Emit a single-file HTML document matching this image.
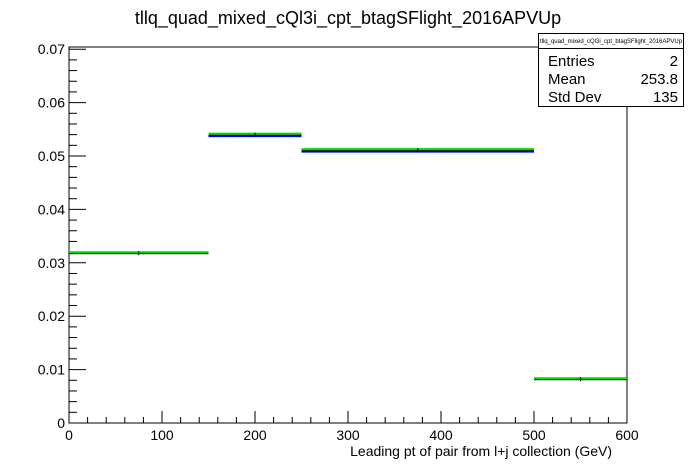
<!DOCTYPE html>
<html><head><meta charset="utf-8"><style>body{margin:0;background:#fff}svg{display:block;font-family:"Liberation Sans",sans-serif}</style></head>
<body>
<svg id="c" width="696" height="472">
<text x="348" y="24" font-size="18" text-anchor="middle">tllq_quad_mixed_cQl3i_cpt_btagSFlight_2016APVUp</text>
</svg>
<script>
const binEdges=[0,150,250,500,600];
const values=[0.0318,0.054,0.0511,0.0082];
const xTicks=[0,100,200,300,400,500,600];
const yTicks=[0,0.01,0.02,0.03,0.04,0.05,0.06,0.07];
const yTickLabels=["0","0.01","0.02","0.03","0.04","0.05","0.06","0.07"];
const stats=[["Entries","2"],["Mean","253.8"],["Std Dev","135"]];
const NS="http://www.w3.org/2000/svg",svg=document.getElementById('c');
const L=69,R=627,T=47,B=423,X0=0,X1=600,Y1=(423-47)/5340;
const sx=v=>L+(v-X0)/(X1-X0)*(R-L), sy=v=>B-v/Y1*(B-T);
function mk(t,a,p){const e=document.createElementNS(NS,t);for(const k in a)e.setAttribute(k,a[k]);(p||svg).appendChild(e);return e;}
const fr=mk('rect',{x:L,y:T,width:R-L,height:B-T,fill:'none',stroke:'#000','stroke-width':1});


for(let i=0;i<yTicks.length;i++){
 const y=sy(yTicks[i]);
 const t=mk('line',{x1:L,x2:L+17,y1:y,y2:y,stroke:'#000'});
 
 
 const tx=mk('text',{x:L-4,y:y+5,'font-size':14,'text-anchor':'end'});tx.textContent=yTickLabels[i];
 
 
 for(let k=1;k<5;k++){const v=yTicks[i]+k*0.002;if(sy(v)<T)break;
  const m=mk('line',{x1:L,x2:L+8,y1:sy(v),y2:sy(v),stroke:'#000'});
  
  }
}
for(let i=0;i<xTicks.length;i++){
 const x=sx(xTicks[i]);
 const t=mk('line',{x1:x,x2:x,y1:B,y2:B-12,stroke:'#000'});
 
 
 const tx=mk('text',{x:x,y:B+17,'font-size':14,'text-anchor':'middle'});tx.textContent=xTicks[i];
 
 
 if(i<xTicks.length-1)for(let k=1;k<5;k++){const xv=sx(xTicks[i]+k*20);
  const m=mk('line',{x1:xv,x2:xv,y1:B,y2:B-6,stroke:'#000'});
  
  }
}
for(let i=0;i<values.length;i++){
 const x1=sx(binEdges[i]),x2=sx(binEdges[i+1]),y=sy(values[i]);
 if(i==1||i==2){const b=mk('rect',{x:x1,y:y+0.5,width:x2-x1,height:2,fill:'#0000ff'});
  
  }
 const k=mk('rect',{x:x1,y:y,width:x2-x1,height:1,fill:'#000'});
 
 
 const g=mk('rect',{x:x1,y:y-2,width:x2-x1,height:2,fill:'#00dd00'});
 
 
 const e=mk('line',{x1:(x1+x2)/2,x2:(x1+x2)/2,y1:y-2,y2:y+2,stroke:'#000'});
 
 
}
const xl=mk('text',{x:612,y:456,'font-size':14,'text-anchor':'end'});xl.textContent='Leading pt of pair from l+j collection (GeV)';


const g=mk('g',{});


mk('rect',{x:538.5,y:33.5,width:145,height:73,fill:'#fff',stroke:'#000'},g);
mk('line',{x1:538,x2:684,y1:48.5,y2:48.5,stroke:'#000'},g);
const st=mk('text',{x:611,y:43,'font-size':6,'text-anchor':'middle'},g);st.textContent='tllq_quad_mixed_cQl3i_cpt_btagSFlight_2016APVUp';
stats.forEach((s,i)=>{const y=66+i*18;
 const a=mk('text',{x:548,y:y,'font-size':15},g);a.textContent=s[0];
 
 
 const b=mk('text',{x:678,y:y,'font-size':15,'text-anchor':'end'},g);b.textContent=s[1];
 
 });
</script>
</body></html>
